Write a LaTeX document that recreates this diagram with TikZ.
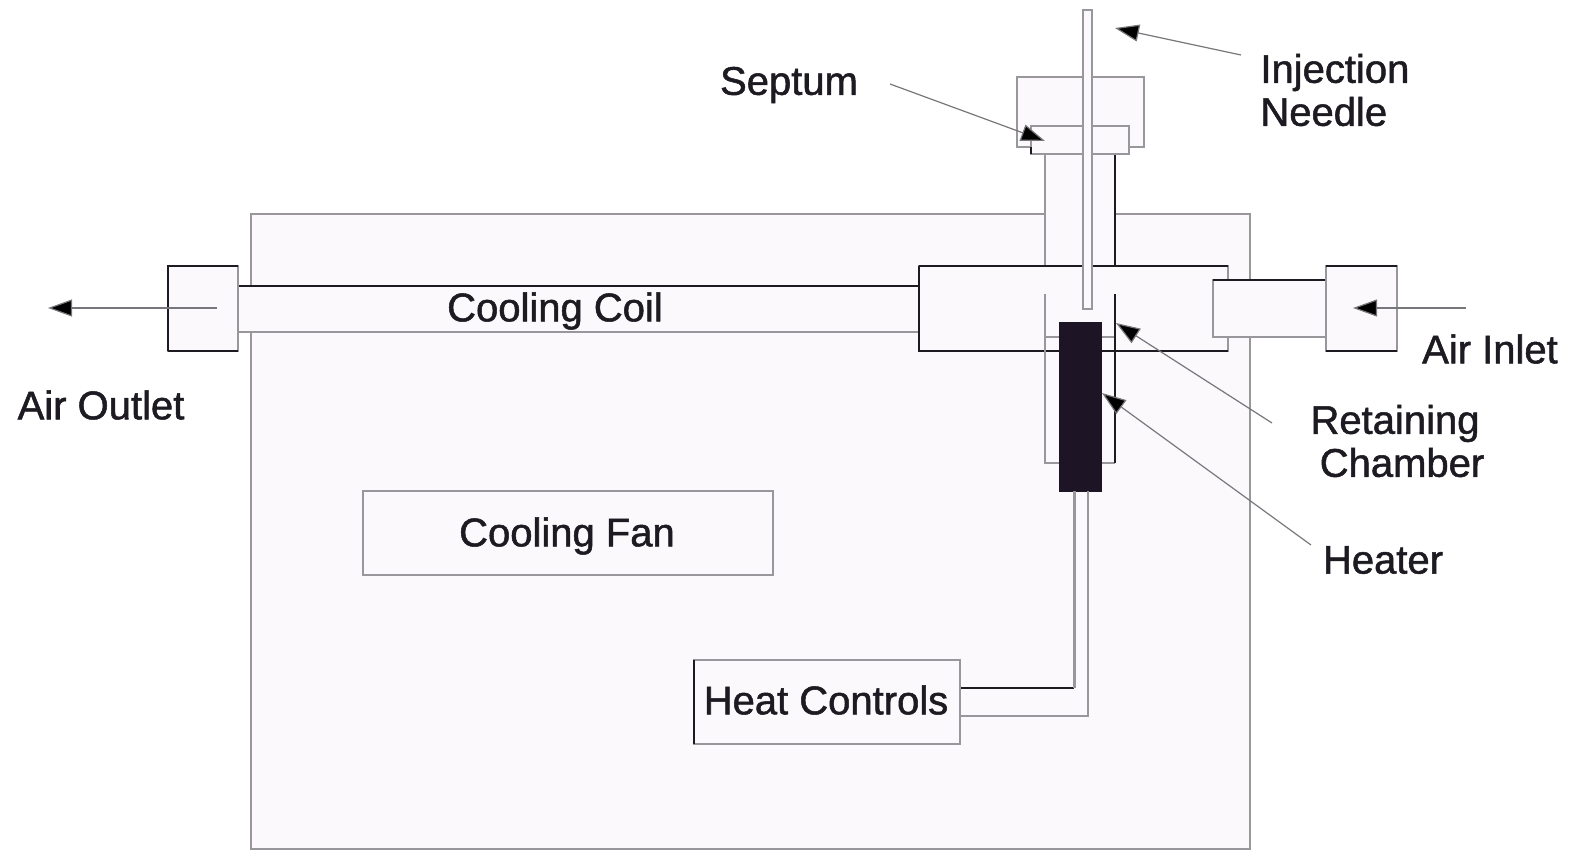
\documentclass[tikz,border=0pt]{standalone}
\usepackage{fontspec}
\setmainfont{Liberation Sans}
\newfontfamily\labelfont[FakeBold=1.3]{Liberation Sans}
\usetikzlibrary{arrows.meta}
\definecolor{partfill}{HTML}{FCF9FD}
\definecolor{partgray}{HTML}{9A979C}
\definecolor{partdark}{HTML}{1D1A22}
\definecolor{heaterfill}{HTML}{1D1526}
\tikzset{
  graypart/.style={partgray, line width=1pt},
  darkpart/.style={partdark, line width=0.8pt},
  lead/.style={draw=partdark!60, line width=0.6pt, -{Triangle[length=12pt,width=8.5pt,fill=black]}},
  label/.style={text=partdark, font=\labelfont\fontsize{20}{21.5}\selectfont, inner sep=0pt, align=center},
  labelbox/.style={draw=partgray, line width=1pt, fill=partfill, inner sep=0pt},
}
\begin{document}
\begin{tikzpicture}[x=0.5pt, y=-0.5pt]
            \useasboundingbox (0,0) rectangle (1570,851);

            % cabinet
            \draw[graypart, fill=partfill] (251,214) rectangle (1250,849);

            % septum housing
            \draw[graypart, fill=partfill] (1017,77) rectangle (1144,147);
            \fill[partfill] (1045,154) rectangle (1115,267);
            \draw[graypart] (1045,154) -- (1045,267);
            \draw[darkpart] (1115,154) -- (1115,267);
            \draw[graypart, fill=partfill] (1031,126) rectangle (1129,154);
            \draw[darkpart] (1031,147) -- (1031,154);

            % cooling coil and outlet
            \fill[partfill] (238,286) rectangle (919,332);
            \draw[darkpart] (238,286) -- (919,286);
            \draw[graypart] (238,332) -- (919,332);
            \draw[graypart, fill=partfill] (168,266) rectangle (238,351);
            \draw[darkpart] (168,351) -- (168,266) -- (238,266);
            \draw[darkpart] (168,351) -- (238,351);

            % chamber block
            \draw[graypart, fill=partfill] (919,266) rectangle (1228,351);
            \draw[darkpart] (919,266) -- (1228,266);
            \draw[darkpart] (1228,351) -- (919,351) -- (919,266);

            % inlet
            \draw[graypart, fill=partfill] (1213,280) rectangle (1326,337);
            \draw[darkpart] (1213,280) -- (1326,280);
            \draw[graypart, fill=partfill] (1326,266) rectangle (1397,351);
            \draw[darkpart] (1326,266) -- (1397,266);
            \draw[darkpart] (1326,351) -- (1397,351);

            % retaining chamber
            \draw[graypart] (1045,294) -- (1045,463) -- (1115,463);
            \draw[graypart] (1045,337) -- (1115,337);
            \draw[partdark, line width=1.1pt] (1115,294) -- (1115,463);

            % needle
            \draw[graypart, fill=partfill] (1083,10) rectangle (1092,309);

            % heater
            \node[draw=heaterfill, fill=heaterfill, minimum width=21pt, minimum height=84.5pt, inner sep=0pt] (heater) at (1080.5,406.5) {};

            % boxes
            \node[labelbox, minimum width=205pt, minimum height=42pt] (fan) at (568,533) {};
            \node[label] (fantext) at (567,536) {Cooling Fan};
            \node[labelbox, minimum width=133pt, minimum height=42pt] (controls) at (827,702) {};
            \node[label] (controlstext) at (826,700) {Heat Controls};
            \draw[darkpart] (694,660) -- (694,744);

            % wires
            \draw[darkpart] (controls.east |- 0,688) -- (1074,688);
            \draw[graypart, line width=1.5pt] (1074,688) -- (heater.south -| 1074,0);
            \draw[graypart] (controls.east |- 0,716) -- (1088,716) -- (heater.south -| 1088,0);

            % labels
            \node[label] (coil) at (555,311) {Cooling Coil};
            \node[label] (septum) at (789,85) {Septum};
            \node[label, align=left, anchor=west] (needle) at (1260,90) {Injection\\Needle};
            \node[label] (inlet) at (1490,349) {Air Inlet};
            \node[label] (outlet) at (101,405) {Air Outlet};
            \node[label] (retaining) at (1395,441) {Retaining\\\hspace*{7pt}Chamber};
            \node[label] (heaterlabel) at (1383,560) {Heater};

            % arrows
            \coordinate (septumfrom) at (890,84);
            \coordinate (septumtip) at (1045,141);
            \coordinate (needlefrom) at (1241,55);
            \coordinate (needletip) at (1115,28);
            \coordinate (inletfrom) at (1466,308);
            \coordinate (inlettip) at (1353,308);
            \coordinate (outletfrom) at (217,308);
            \coordinate (outlettip) at (48,308);
            \coordinate (retainingfrom) at (1272,423);
            \coordinate (retainingtip) at (1116,323);
            \coordinate (heaterfrom) at (1311,545);
            \coordinate (heatertip) at (1102,393);

            \draw[lead] (septumfrom) -- (septumtip);
            \draw[lead] (needlefrom) -- (needletip);
            \draw[lead] (inletfrom) -- (inlettip);
            \draw[lead] (outletfrom) -- (outlettip);
            \draw[lead] (retainingfrom) -- (retainingtip);
            \draw[lead] (heaterfrom) -- (heatertip);
        \end{tikzpicture}
\end{document}
